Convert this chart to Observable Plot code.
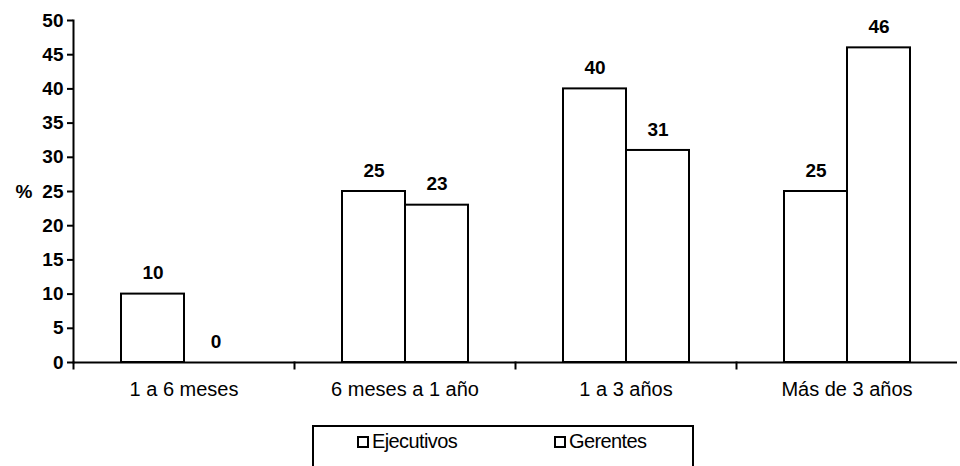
<!DOCTYPE html>
<html>
<head>
<meta charset="utf-8">
<script src="https://cdn.jsdelivr.net/npm/d3@7"></script>
<script src="https://cdn.jsdelivr.net/npm/@observablehq/plot@0.6"></script>
<style>
  html, body { margin: 0; padding: 0; background: #fff; overflow: hidden; }
  body { width: 960px; height: 466px; position: relative; font-family: "Liberation Sans", Arial, sans-serif; }
  #legend { position: absolute; left: 312px; top: 425px; width: 382px; height: 60px; border: 2px solid #000; box-sizing: border-box; }
  .item { position: absolute; top: 3px; font-size: 20px; color: #000; display: flex; align-items: center; letter-spacing: -0.6px; }
  .sw { width: 8px; height: 8px; border: 2px solid #000; margin-right: 3px; background: #fff; }
</style>
</head>
<body>
<div id="chart"></div>
<div id="legend"></div>
<script>
const categories = ["1 a 6 meses", "6 meses a 1 año", "1 a 3 años", "Más de 3 años"];
const series = ["Ejecutivos", "Gerentes"];
const ejecutivos = [10, 25, 40, 25];
const gerentes = [0, 23, 31, 46];
const yTicks = [0, 5, 10, 15, 20, 25, 30, 35, 40, 45, 50];
const yLabel = "%";

const values = [ejecutivos, gerentes];
const data = [];
categories.forEach((c, i) => series.forEach((s, j) => data.push({cat: c, series: s, value: values[j][i]})));

const chart = Plot.plot({
  width: 960,
  height: 410,
  marginLeft: 72,
  marginRight: 2,
  marginTop: 20,
  marginBottom: 48,
  style: {fontFamily: "'Liberation Sans', Arial, sans-serif", color: "#000", background: "#fff"},
  fx: {domain: categories, paddingInner: 0, paddingOuter: 0, label: null},
  x: {domain: series, paddingInner: 0, paddingOuter: 0.73, axis: null},
  y: {domain: [0, 50], ticks: yTicks, label: null},
  marks: [
    Plot.frame({anchor: "left", stroke: "#000", strokeWidth: 2, insetTop: 342, insetBottom: -6}),
    Plot.frame({anchor: "left", facetAnchor: "left", stroke: "#000", strokeWidth: 2}),
    Plot.axisY({ticks: yTicks, tickSize: 6, tickPadding: 4, fontSize: 19, fontWeight: "bold", strokeWidth: 2, label: null}),
    Plot.axisFx({anchor: "bottom", tickSize: 0, tickPadding: 19, fontSize: 20, label: null, letterSpacing: "-0.6px"}),
    Plot.barY(data, {fx: "cat", x: "series", y: "value", fill: "white", stroke: "black", strokeWidth: 2}),
    Plot.ruleY([0], {stroke: "black", strokeWidth: 2}),
    Plot.text(data, {fx: "cat", x: "series", y: "value", text: d => String(d.value), dy: -21, fontSize: 19, fontWeight: "bold", fill: "black"}),
    Plot.text([{fx: categories[0], y: 25, t: yLabel}], {fx: "fx", y: "y", text: "t", frameAnchor: "left", dx: -58, fontSize: 19, fontWeight: "bold", fill: "black"})
  ]
});
document.getElementById("chart").append(chart);

const legend = document.getElementById("legend");
const positions = [43, 240];
series.forEach((s, i) => {
  const d = document.createElement("div");
  d.className = "item";
  d.style.left = positions[i] + "px";
  d.innerHTML = `<span class="sw"></span><span>${s}</span>`;
  legend.append(d);
});
</script>
</body>
</html>
